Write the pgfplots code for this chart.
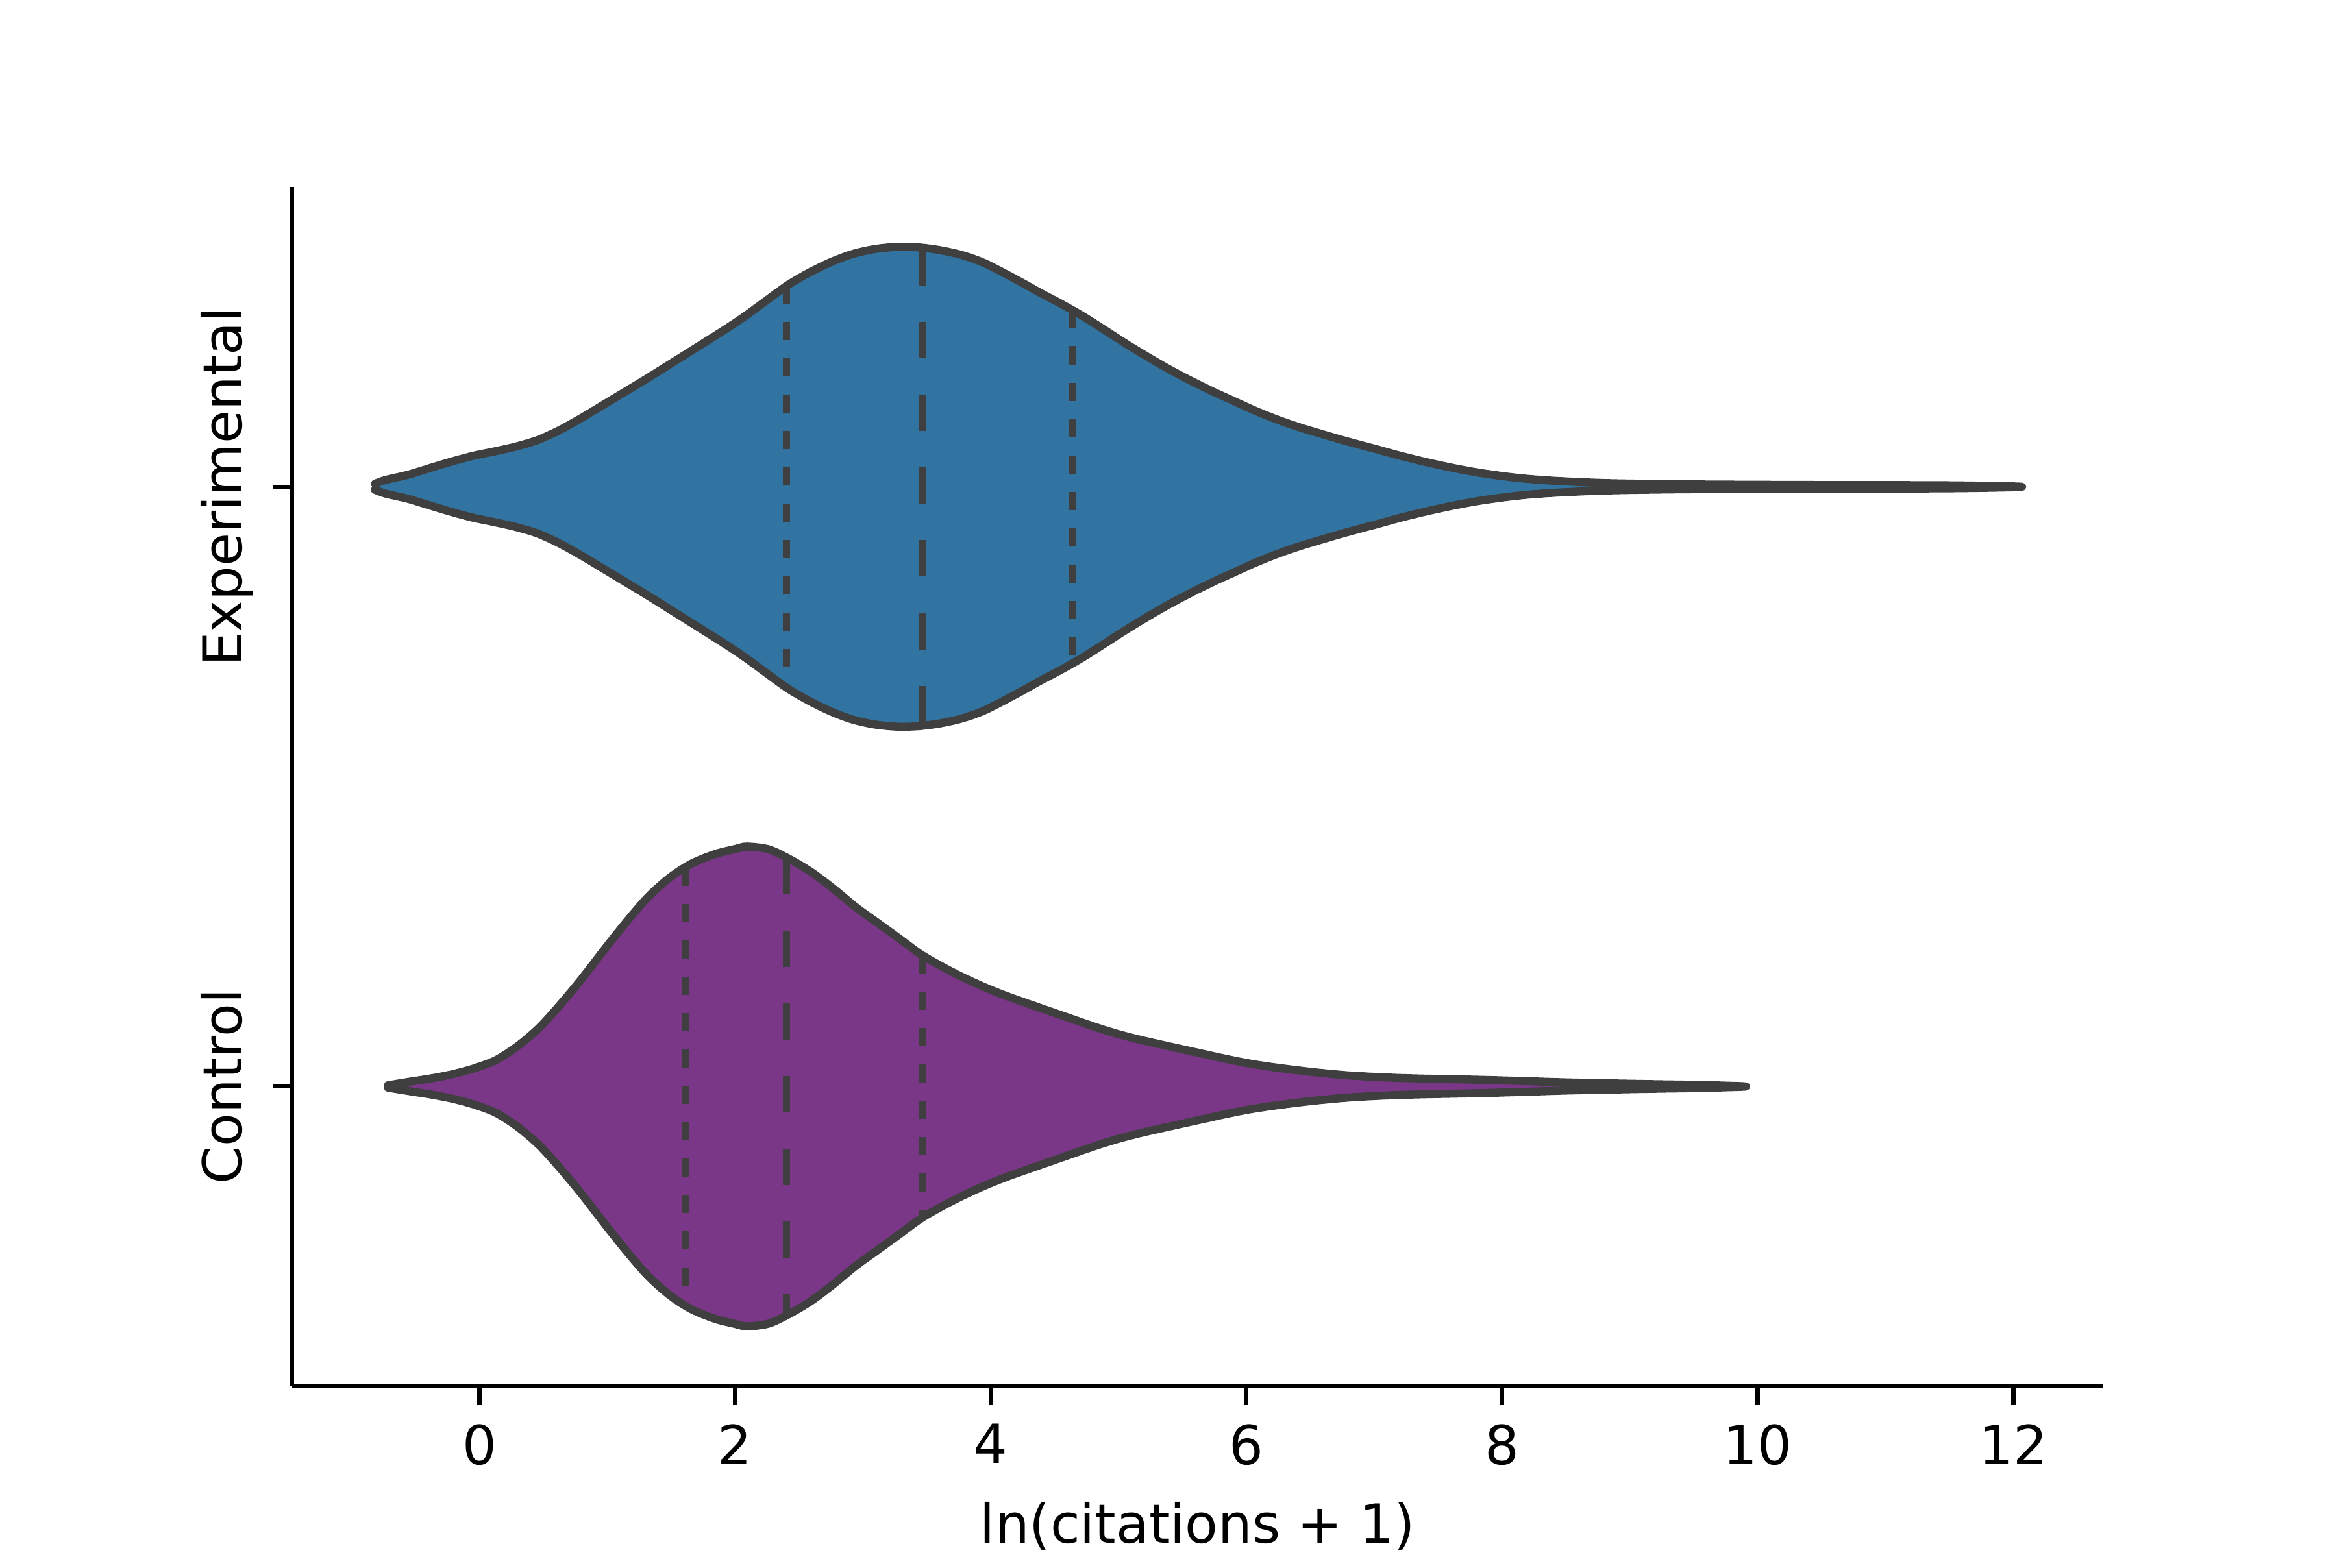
\documentclass[border=0pt]{standalone}
\usepackage{fontspec}
\setmainfont{DejaVu Sans}
\usepackage{pgfplots}
\pgfplotsset{compat=1.18}
\usepackage{pgfplotstable}
\definecolor{expc}{HTML}{3274A1}
\definecolor{ctlc}{HTML}{7B3787}
\definecolor{edgec}{HTML}{3F3F3F}

% Experimental violin outline: x = ln(citations+1), w = signed half-width
% (upper edge left to right, then lower edge right to left)
\pgfplotstableread{
x w
-0.817 0.0050
-0.732 0.0115
-0.563 0.0198
-0.394 0.0307
-0.224 0.0416
-0.055 0.0513
0.114 0.0588
0.283 0.0669
0.453 0.0777
0.622 0.0939
0.791 0.1138
0.961 0.1355
1.130 0.1572
1.299 0.1789
1.469 0.2015
1.638 0.2241
1.909 0.2605
2.078 0.2845
2.247 0.3108
2.416 0.3368
2.586 0.3577
2.755 0.3751
2.924 0.3884
3.094 0.3964
3.263 0.4000
3.432 0.3993
3.602 0.3946
3.771 0.3866
3.940 0.3740
4.110 0.3559
4.279 0.3365
4.380 0.3244
4.549 0.3054
4.719 0.2848
4.888 0.2620
5.057 0.2388
5.227 0.2168
5.396 0.1960
5.565 0.1770
5.735 0.1592
5.904 0.1428
6.073 0.1265
6.243 0.1120
6.412 0.0995
6.581 0.0886
6.751 0.0780
6.920 0.0682
7.021 0.0625
7.200 0.0520
7.400 0.0415
7.600 0.0322
7.800 0.0242
8.000 0.0180
8.200 0.0132
8.450 0.0095
8.850 0.0060
9.500 0.0040
10.500 0.0030
11.500 0.0025
12.070 0.0000
11.500 -0.0025
10.500 -0.0030
9.500 -0.0040
8.850 -0.0060
8.450 -0.0095
8.200 -0.0132
8.000 -0.0180
7.800 -0.0242
7.600 -0.0322
7.400 -0.0415
7.200 -0.0520
7.021 -0.0625
6.920 -0.0682
6.751 -0.0780
6.581 -0.0886
6.412 -0.0995
6.243 -0.1120
6.073 -0.1265
5.904 -0.1428
5.735 -0.1592
5.565 -0.1770
5.396 -0.1960
5.227 -0.2168
5.057 -0.2388
4.888 -0.2620
4.719 -0.2848
4.549 -0.3054
4.380 -0.3244
4.279 -0.3365
4.110 -0.3559
3.940 -0.3740
3.771 -0.3866
3.602 -0.3946
3.432 -0.3993
3.263 -0.4000
3.094 -0.3964
2.924 -0.3884
2.755 -0.3751
2.586 -0.3577
2.416 -0.3368
2.247 -0.3108
2.078 -0.2845
1.909 -0.2605
1.638 -0.2241
1.469 -0.2015
1.299 -0.1789
1.130 -0.1572
0.961 -0.1355
0.791 -0.1138
0.622 -0.0939
0.453 -0.0777
0.283 -0.0669
0.114 -0.0588
-0.055 -0.0513
-0.224 -0.0416
-0.394 -0.0307
-0.563 -0.0198
-0.732 -0.0115
-0.817 -0.0050
}\expdata

% Control violin outline
\pgfplotstableread{
x w
-0.715 0.0020
-0.546 0.0079
-0.377 0.0135
-0.207 0.0206
-0.038 0.0304
0.131 0.0441
0.301 0.0675
0.470 0.0983
0.639 0.1380
0.808 0.1814
0.978 0.2284
1.147 0.2735
1.316 0.3151
1.486 0.3476
1.655 0.3711
1.841 0.3873
2.010 0.3964
2.095 0.4000
2.264 0.3953
2.434 0.3783
2.603 0.3566
2.772 0.3295
2.942 0.2995
3.111 0.2735
3.280 0.2475
3.449 0.2210
3.619 0.2000
3.788 0.1815
3.957 0.1651
4.126 0.1507
4.296 0.1378
4.482 0.1240
4.651 0.1115
4.821 0.0990
4.990 0.0878
5.159 0.0784
5.329 0.0701
5.498 0.0621
5.667 0.0542
5.837 0.0462
6.006 0.0390
6.175 0.0333
6.344 0.0285
6.513 0.0242
6.683 0.0206
6.852 0.0177
7.123 0.0148
7.400 0.0130
7.850 0.0110
8.200 0.0088
8.500 0.0068
8.850 0.0052
9.200 0.0038
9.550 0.0025
9.910 0.0000
9.550 -0.0025
9.200 -0.0038
8.850 -0.0052
8.500 -0.0068
8.200 -0.0088
7.850 -0.0110
7.400 -0.0130
7.123 -0.0148
6.852 -0.0177
6.683 -0.0206
6.513 -0.0242
6.344 -0.0285
6.175 -0.0333
6.006 -0.0390
5.837 -0.0462
5.667 -0.0542
5.498 -0.0621
5.329 -0.0701
5.159 -0.0784
4.990 -0.0878
4.821 -0.0990
4.651 -0.1115
4.482 -0.1240
4.296 -0.1378
4.126 -0.1507
3.957 -0.1651
3.788 -0.1815
3.619 -0.2000
3.449 -0.2210
3.280 -0.2475
3.111 -0.2735
2.942 -0.2995
2.772 -0.3295
2.603 -0.3566
2.434 -0.3783
2.264 -0.3953
2.095 -0.4000
2.010 -0.3964
1.841 -0.3873
1.655 -0.3711
1.486 -0.3476
1.316 -0.3151
1.147 -0.2735
0.978 -0.2284
0.808 -0.1814
0.639 -0.1380
0.470 -0.0983
0.301 -0.0675
0.131 -0.0441
-0.038 -0.0304
-0.207 -0.0206
-0.377 -0.0135
-0.546 -0.0079
-0.715 -0.0020
}\ctldata

\begin{document}
\begin{tikzpicture}
\begin{axis}[
  at={(0,0)}, anchor=south west,
  scale only axis, width=4.65in, height=3.08in,
  xmin=-1.465, xmax=12.705, ymin=-0.5, ymax=1.5,
  axis x line*=bottom, axis y line*=left,
  axis line style={line width=0.8pt, black},
  tick style={line width=0.8pt, black},
  tick align=outside, major tick length=3.5pt,
  xtick={0,2,4,6,8,10,12},
  ytick={0,1}, yticklabels={Control,Experimental},
  tick label style={font=\fontsize{10}{12}\selectfont},
  /pgf/number format/assume math mode=true,
  yticklabel style={rotate=90, anchor=south, text depth=2.3pt},
  xlabel={ln(citations + 1)},
  xlabel style={font=\fontsize{10}{12}\selectfont},
  outl/.style={draw=edgec, line width=1.5pt, line join=round, line cap=round, smooth, tension=0.5},
  med/.style={draw=edgec, line width=1.3pt, dash pattern=on 6.75pt off 6.75pt},
  quar/.style={draw=edgec, line width=1.3pt, dash pattern=on 3.4pt off 3.35pt},
]
% Experimental (position 1)
\addplot[outl, fill=expc] table[x=x, y expr=1+\thisrow{w}] {\expdata};
% Control (position 0)
\addplot[outl, fill=ctlc] table[x=x, y expr=\thisrow{w}] {\ctldata};
% quartile lines (drawn from top to bottom)
\addplot[quar] coordinates {(2.401,1.336) (2.401,0.664)};
\addplot[med]  coordinates {(3.468,1.396) (3.468,0.604)};
\addplot[quar] coordinates {(4.636,1.295) (4.636,0.705)};
\addplot[quar] coordinates {(1.616,0.365) (1.616,-0.365)};
\addplot[med]  coordinates {(2.401,0.381) (2.401,-0.381)};
\addplot[quar] coordinates {(3.468,0.219) (3.468,-0.219)};
\end{axis}
\path (-0.75in,-0.44in) rectangle (5.25in,3.56in);
\end{tikzpicture}
\end{document}
